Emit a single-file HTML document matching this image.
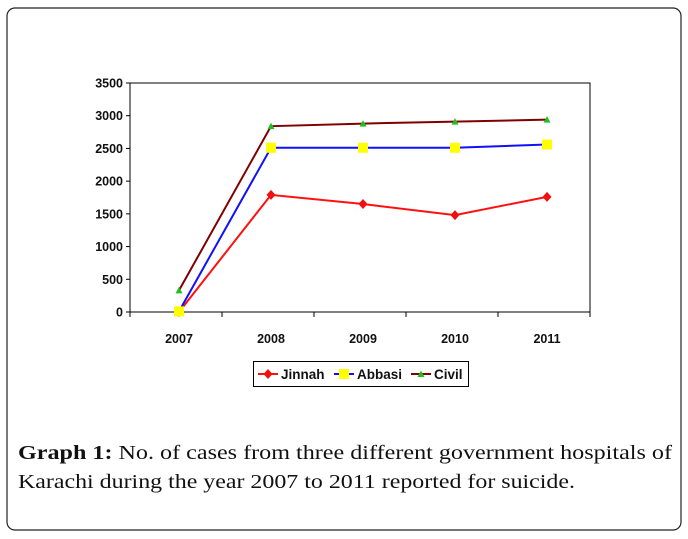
<!DOCTYPE html>
<html><head><meta charset="utf-8"><style>
html,body{margin:0;padding:0;background:#fff;}
svg{display:block;}
</style></head><body>
<svg width="688" height="539" xmlns="http://www.w3.org/2000/svg">
<rect x="7" y="8" width="674" height="522" rx="8" fill="#fff" stroke="#222" stroke-width="1.2"/>
<g id="chart"></g>
<text x="18" y="459" font-family="Liberation Serif, serif" font-size="20" fill="#111" textLength="654" lengthAdjust="spacingAndGlyphs"><tspan font-weight="bold">Graph 1:</tspan> No. of cases from three different government hospitals of</text>
<text x="18" y="488" font-family="Liberation Serif, serif" font-size="20" fill="#111" textLength="557" lengthAdjust="spacingAndGlyphs">Karachi during the year 2007 to 2011 reported for suicide.</text>
</svg>
<script>
const categories = ["2007","2008","2009","2010","2011"];
const jinnah = [0,1790,1650,1480,1760];
const abbasi = [10,2510,2510,2510,2560];
const civil = [330,2840,2880,2910,2940];
const yTicks = [0,500,1000,1500,2000,2500,3000,3500];
const seriesNames = ["Jinnah","Abbasi","Civil"];

const NS="http://www.w3.org/2000/svg";
const g=document.getElementById('chart');
const L=130,R=590,T=83,B=312,YMAX=3500;
const bw=(R-L)/categories.length;
const x=i=>L+3+bw*(i+0.5);
const y=v=>B-(v/YMAX)*(B-T);
function mk(tag,attrs,parent){const e=document.createElementNS(NS,tag);for(const k in attrs)e.setAttribute(k,attrs[k]);(parent||g).appendChild(e);return e;}
const font="Liberation Sans, Arial, sans-serif";
let e=mk('path',{d:`M${L},${T}H${R}V${B}`,fill:'none',stroke:'#000','stroke-width':1});


e=mk('line',{x1:L,y1:T,x2:L,y2:B,stroke:'#000','stroke-width':1});


e=mk('line',{x1:L,y1:B,x2:R,y2:B,stroke:'#000','stroke-width':1});


yTicks.forEach(v=>{
  const t=mk('line',{x1:L-4,y1:y(v),x2:L,y2:y(v),stroke:'#000'});
  
  
  const lb=mk('text',{x:L-7,y:y(v)+4.5,'text-anchor':'end','font-family':font,'font-size':12.5,'font-weight':'bold',fill:'#111'});
  lb.textContent=v;
  
  
});
for(let i=0;i<=categories.length;i++){
  const t=mk('line',{x1:L+bw*i,y1:B,x2:L+bw*i,y2:B+5,stroke:'#000'});
  
  
}
categories.forEach((c,i)=>{
  const lb=mk('text',{x:x(i),y:B+31,'text-anchor':'middle','font-family':font,'font-size':12.5,'font-weight':'bold',fill:'#111'});
  lb.textContent=c;
  
  
});
function marker(kind,cx,cy,parent){
  let m;
  if(kind==='diamond') m=mk('path',{d:`M${cx},${cy-5}L${cx+4.5},${cy}L${cx},${cy+5}L${cx-4.5},${cy}Z`,fill:'#f01010'},parent);
  else if(kind==='square') m=mk('rect',{x:cx-5,y:cy-5,width:10,height:10,fill:'#ffff00'},parent);
  else m=mk('path',{d:`M${cx},${cy-3.5}L${cx+3.5},${cy+3}L${cx-3.5},${cy+3}Z`,fill:'#20c020'},parent);
  return m;
}
const series=[[jinnah,'#ff1010','diamond','jinnah'],[abbasi,'#1010ff','square','abbasi'],[civil,'#800000','triangle','civil']];
series.forEach(([d,col,mkind,name])=>{
  const sg=mk('g',{});
  
  
  const l=mk('polyline',{points:d.map((v,i)=>`${x(i)},${y(v)}`).join(' '),fill:'none',stroke:col,'stroke-width':2},sg);
  
  
  d.forEach((v,i)=>{
    const m=marker(mkind,x(i),y(v),sg);
    
    
  });
});
const lg=mk('g',{});


e=mk('rect',{x:253.5,y:361.5,width:215,height:25,fill:'#fff',stroke:'#000','stroke-width':1},lg);


const lx=[258,334,411];
series.forEach(([d,col,mkind,name],k)=>{
  const eg=mk('g',{},lg);
  
  
  mk('line',{x1:lx[k],y1:374,x2:lx[k]+20,y2:374,stroke:col,'stroke-width':2},eg);
  marker(mkind,lx[k]+10,374,eg);
  const t=mk('text',{x:lx[k]+23,y:379,'font-family':font,'font-size':13.5,'font-weight':'bold',fill:'#111'},eg);
  t.textContent=seriesNames[k];
});
</script>
</body></html>
